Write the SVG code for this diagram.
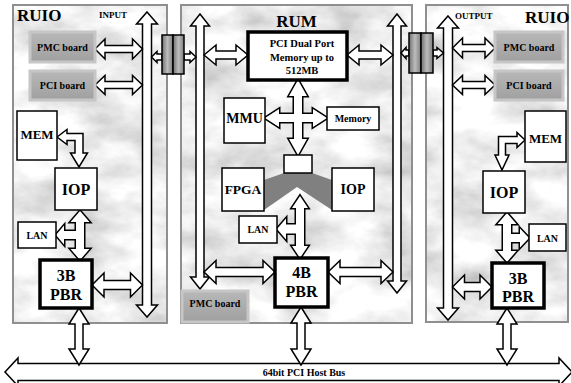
<svg xmlns="http://www.w3.org/2000/svg" xmlns:xlink="http://www.w3.org/1999/xlink" width="571" height="383" viewBox="0 0 571 383">
<style>
.t{font-family:"Liberation Serif","Times New Roman",serif;font-weight:bold;text-anchor:middle;fill:#000}
.bx{fill:#fff;stroke:#000;stroke-width:1.5}
.bxt{fill:#fff;stroke:#000;stroke-width:3.5}
.brd{fill:url(#bgrad);stroke:#c6c6c6;stroke-width:3}
.ar{fill:#fff;stroke:#000;stroke-width:1.5;stroke-linejoin:miter}
.olu{fill:#000;stroke:#000;stroke-width:3;stroke-linejoin:miter}
.fiu{fill:#fff;stroke:none}
.pan{fill:none;stroke:#8f8f8f;stroke-width:2}
.cyl{fill:url(#cgrad);stroke:#000;stroke-width:1.5}
</style>
<defs>
<filter id="marble" x="0" y="0" width="1" height="1">
<feTurbulence type="fractalNoise" baseFrequency="0.016 0.028" numOctaves="5" seed="7"/>
<feColorMatrix type="matrix" values="0.9 0 0 0 0.4  0.9 0 0 0 0.4  0.9 0 0 0 0.4  0 0 0 0 1"/>
</filter>
<linearGradient id="bgrad" x1="0" y1="0" x2="0" y2="1">
<stop offset="0" stop-color="#b8b8b8"/><stop offset="1" stop-color="#a0a0a0"/>
</linearGradient>
<linearGradient id="cgrad" x1="0" y1="0" x2="1" y2="0">
<stop offset="0" stop-color="#707070"/><stop offset="0.5" stop-color="#bdbdbd"/><stop offset="1" stop-color="#7c7c7c"/>
</linearGradient>
<g id="cross">
<polygon points="298,80 307,96 302,96 302,139 307,139 298,155 289,139 294,139 294,96 289,96"/>
<polygon points="265,118 279,109 279,114 313,114 313,109 327,118 313,127 313,122 279,122 279,127"/>
</g>
<g id="tleft">
<polygon points="80,211 89.5,222 84,222 84,249 89.5,249 80,260 70.5,249 76,249 76,222 70.5,222"/>
<polygon points="56,235 64,225.5 64,231 80,231 80,239 64,239 64,244.5"/>
</g>
<g id="tmid">
<polygon points="300,196 308,208 304,208 304,246 308,246 300,258 292,246 296,246 296,208 292,208"/>
<polygon points="277,229 286,218.5 286,224.5 300,224.5 300,233.5 286,233.5 286,239.5"/>
</g>
<g id="tright">
<polygon points="507,213 516.5,224 511,224 511,251 516.5,251 507,262 497.5,251 503,251 503,224 497.5,224"/>
<polygon points="507,234 520,234 520,228.5 529,238 520,247.5 520,242 507,242"/>
</g>
</defs>

<g id="panel-ruio-in">
<rect x="13" y="5" width="154" height="318" filter="url(#marble)"/>
<rect x="13" y="5" width="154" height="318" class="pan"/>
<text class="t" x="17" y="21" font-size="17" style="text-anchor:start">RUIO</text>
<text class="t" x="99" y="18" font-size="9" style="text-anchor:start">INPUT</text>
</g>
<g id="panel-rum">
<rect x="181" y="5" width="231" height="318" filter="url(#marble)"/>
<rect x="181" y="5" width="231" height="318" class="pan"/>
<text class="t" x="296.5" y="27" font-size="17">RUM</text>
</g>
<g id="panel-ruio-out">
<rect x="426" y="5" width="142" height="317" filter="url(#marble)"/>
<rect x="426" y="5" width="142" height="317" class="pan"/>
<text class="t" x="455" y="18.5" font-size="9" style="text-anchor:start">OUTPUT</text>
<text class="t" x="525" y="23" font-size="17" style="text-anchor:start">RUIO</text>
</g>

<g id="chevron">
<polygon points="264,180 284,173 312,173 332,180 332,210 297,187 264,210" fill="#808080"/>
</g>

<g id="connectors">
<polygon class="ar" points="147,12 157.5,24 151.5,24 151.5,305 157.5,305 147,317 136.5,305 142.5,305 142.5,24 136.5,24"/>
<polygon class="ar" points="95,49 105,39 105,45.5 132.5,45.5 132.5,39 142.5,49 132.5,59 132.5,52.5 105,52.5 105,59"/>
<polygon class="ar" points="95,85 105,75.5 105,81.5 132.5,81.5 132.5,75.5 142.5,85 132.5,94.5 132.5,88.5 105,88.5 105,94.5"/>
<polygon class="ar" points="92,285 104,273 104,280.5 130.5,280.5 130.5,273 142.5,285 130.5,297 130.5,289.5 104,289.5 104,297"/>
<polygon class="ar" points="57,137 67,129.5 67,133.5 83,133.5 83,153 87.5,153 79,167 70.5,153 75,153 75,140.5 67,140.5 67,144.5"/>
<use xlink:href="#tleft" class="olu"/><use xlink:href="#tleft" class="fiu"/>
<polygon class="ar" points="200,14 209.5,26 204,26 204,277 209.5,277 200,289 190.5,277 196,277 196,26 190.5,26"/>
<polygon class="ar" points="397,14 406.5,26 401,26 401,281 406.5,281 397,293 387.5,281 393,281 393,26 387.5,26"/>
<polygon class="ar" points="204,55 216,45 216,51 236,51 236,45 248,55 236,65 236,59 216,59 216,65"/>
<polygon class="ar" points="347,55 359,45 359,51 381,51 381,45 393,55 381,65 381,59 359,59 359,65"/>
<polygon class="ar" points="204,272 216,260.5 216,267.5 263,267.5 263,260.5 275,272 263,283.5 263,276.5 216,276.5 216,283.5"/>
<polygon class="ar" points="328,272 340,260.5 340,267.5 381,267.5 381,260.5 393,272 381,283.5 381,276.5 340,276.5 340,283.5"/>
<use xlink:href="#cross" class="olu"/><use xlink:href="#cross" class="fiu"/>
<use xlink:href="#tmid" class="olu"/><use xlink:href="#tmid" class="fiu"/>
<polygon class="ar" points="448,16 458.5,28 452.5,28 452.5,308 458.5,308 448,320 437.5,308 443.5,308 443.5,28 437.5,28"/>
<polygon class="ar" points="452.5,48 462.5,38 462.5,44.5 485,44.5 485,38 495,48 485,58 485,51.5 462.5,51.5 462.5,58"/>
<polygon class="ar" points="452.5,85 462.5,75.5 462.5,81.5 485,81.5 485,75.5 495,85 485,94.5 485,88.5 462.5,88.5 462.5,94.5"/>
<polygon class="ar" points="452.5,287 464.5,275 464.5,282.5 480,282.5 480,275 492,287 480,299 480,291.5 464.5,291.5 464.5,299"/>
<polygon class="ar" points="525,140 517,132.5 517,136.5 498.5,136.5 498.5,155 495,155 502,170 509,155 505.5,155 505.5,143.5 517,143.5 517,147.5"/>
<use xlink:href="#tright" class="olu"/><use xlink:href="#tright" class="fiu"/>
<polygon class="ar" points="151.5,57 157,51.5 157,54 162,54 162,60 157,60 157,62.5"/>
<polygon class="ar" points="184,54 190,54 190,51.5 196,57 190,62.5 190,60 184,60"/>
<polygon class="ar" points="401,53 406,47.5 406,50 409,50 409,56 406,56 406,58.5"/>
<polygon class="ar" points="433,50 437,50 437,47.5 443.5,53 437,58.5 437,56 433,56"/>
<polygon class="ar" points="5,372 18,358 18,363.5 559,363.5 559,358 572,372 559,386 559,380.5 18,380.5 18,386"/>
<polygon class="ar" points="79,308 89,324 83,324 83,349 89,349 79,365 69,349 75,349 75,324 69,324"/>
<polygon class="ar" points="301,307 311,323 305,323 305,349 311,349 301,365 291,349 297,349 297,323 291,323"/>
<polygon class="ar" points="507,308 517,324 511,324 511,349 517,349 507,365 497,349 503,349 503,324 497,324"/>
</g>
<text class="t" x="304" y="376" font-size="10">64bit PCI Host Bus</text>

<g id="bridge-in">
<rect class="cyl" x="162" y="35" width="11" height="39"/>
<rect class="cyl" x="173" y="35" width="11" height="39"/>
</g>
<g id="bridge-out">
<rect class="cyl" x="409" y="33" width="12" height="40"/>
<rect class="cyl" x="421" y="33" width="12" height="40"/>
</g>

<g id="pmc-in"><rect class="brd" x="30" y="32" width="65" height="30"/><text class="t" x="62.5" y="50.5" font-size="10">PMC board</text></g>
<g id="pci-in"><rect class="brd" x="30" y="71" width="65" height="29"/><text class="t" x="62.5" y="89" font-size="10">PCI board</text></g>
<g id="mem-in"><rect class="bx" x="17" y="111" width="40" height="49"/><text class="t" x="37" y="139" font-size="13">MEM</text></g>
<g id="iop-in"><rect class="bx" x="55" y="168" width="42" height="42"/><text class="t" x="76" y="195" font-size="16">IOP</text></g>
<g id="lan-in"><rect class="bx" x="18" y="222" width="38" height="26"/><text class="t" x="37" y="238.5" font-size="10">LAN</text></g>
<g id="pbr3-in"><rect class="bxt" x="40" y="260" width="52" height="48"/><text class="t" x="66" y="280.5" font-size="16">3B</text><text class="t" x="66" y="300" font-size="16">PBR</text></g>

<g id="dpmem"><rect class="bxt" x="248" y="32" width="99" height="48"/>
<text class="t" x="302" y="47" font-size="10.5">PCI Dual Port</text>
<text class="t" x="302" y="61" font-size="10.5">Memory up to</text>
<text class="t" x="302" y="74" font-size="10.5">512MB</text></g>
<g id="mmu"><rect class="bx" x="224" y="98" width="41" height="45"/><text class="t" x="244.5" y="123" font-size="14">MMU</text></g>
<g id="memory"><rect class="bx" x="327" y="107" width="52" height="23"/><text class="t" x="353" y="122" font-size="10">Memory</text></g>
<g id="hub"><rect class="bx" x="284" y="155" width="28" height="18"/></g>
<g id="fpga"><rect class="bx" x="222" y="168" width="42" height="43"/><text class="t" x="243" y="194" font-size="13.5">FPGA</text></g>
<g id="iop-mid"><rect class="bx" x="332" y="168" width="42" height="43"/><text class="t" x="353" y="194" font-size="14">IOP</text></g>
<g id="lan-mid"><rect class="bx" x="239" y="216" width="38" height="27"/><text class="t" x="258" y="233" font-size="10">LAN</text></g>
<g id="pbr4"><rect class="bxt" x="275" y="258" width="53" height="49"/><text class="t" x="301.5" y="278" font-size="16">4B</text><text class="t" x="301.5" y="297" font-size="16">PBR</text></g>
<g id="pmc-mid"><rect class="brd" x="182" y="291" width="66" height="31"/><text class="t" x="215" y="307" font-size="10">PMC board</text></g>

<g id="pmc-out"><rect class="brd" x="495" y="32" width="68" height="30"/><text class="t" x="529" y="50.5" font-size="10">PMC board</text></g>
<g id="pci-out"><rect class="brd" x="495" y="71" width="68" height="29"/><text class="t" x="529" y="89" font-size="10">PCI board</text></g>
<g id="mem-out"><rect class="bx" x="525" y="111" width="41" height="51"/><text class="t" x="545.5" y="143" font-size="13">MEM</text></g>
<g id="iop-out"><rect class="bx" x="483" y="171" width="42" height="42"/><text class="t" x="504" y="198" font-size="16">IOP</text></g>
<g id="lan-out"><rect class="bx" x="529" y="224" width="37" height="27"/><text class="t" x="547.5" y="241.5" font-size="10">LAN</text></g>
<g id="pbr3-out"><rect class="bxt" x="492" y="263" width="52" height="45"/><text class="t" x="518" y="283.5" font-size="16">3B</text><text class="t" x="518" y="302" font-size="16">PBR</text></g>
</svg>
